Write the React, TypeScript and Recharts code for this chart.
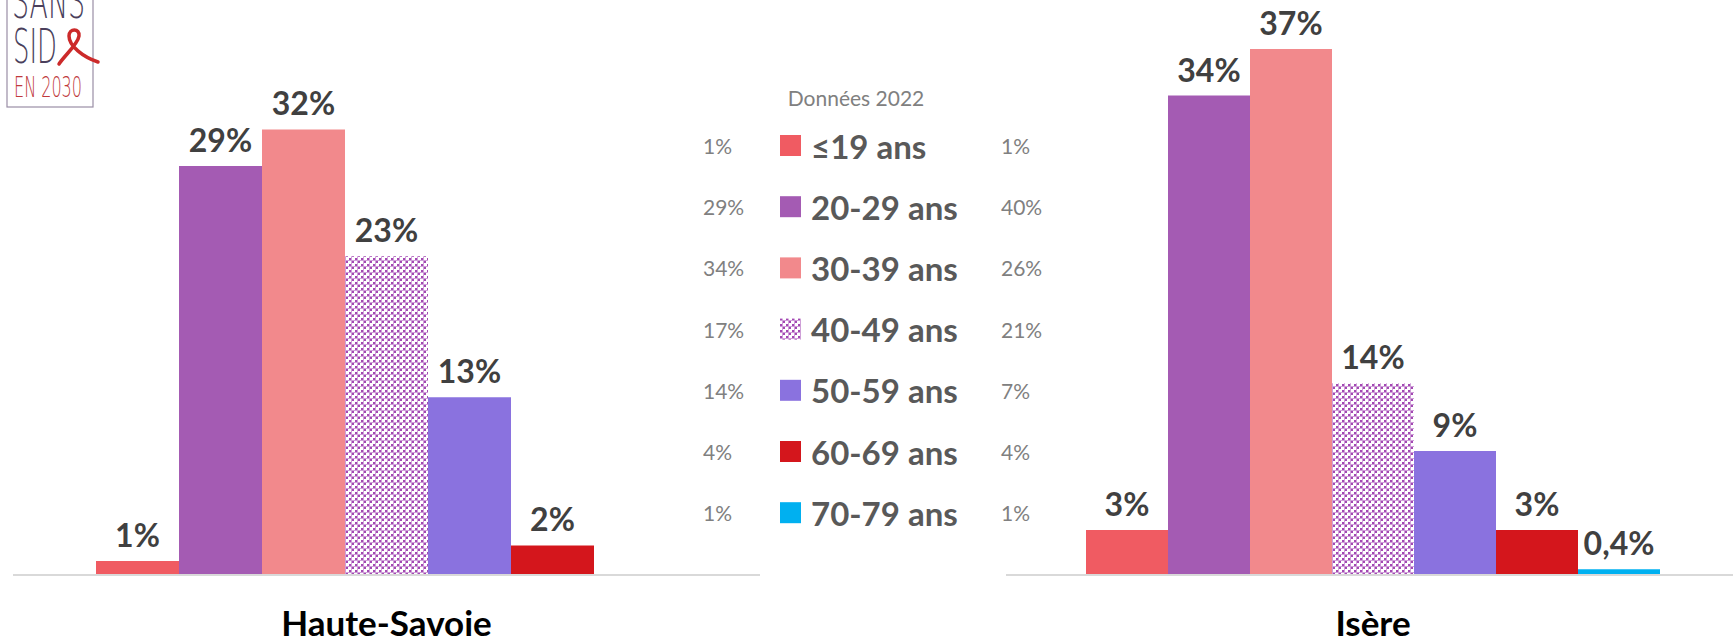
import React from "react";
import { BarChart, Bar, XAxis, YAxis, LabelList } from "recharts";

const AGE_GROUPS = ["≤19 ans", "20-29 ans", "30-39 ans", "40-49 ans", "50-59 ans", "60-69 ans", "70-79 ans"];
const AGE_COLORS = ["#F05B62", "#A45BB3", "#F2898C", "PATTERN", "#8A72DF", "#D4161C", "#00B0F0"];

const HAUTE_SAVOIE = [1.0, 29.0, 31.6, 22.6, 12.6, 2.1, null];
const ISERE = [3.2, 34.0, 37.3, 13.6, 8.8, 3.2, 0.4];

// figures printed beside the legend (left / right columns)
const LEGEND_LEFT = ["1%", "29%", "34%", "17%", "14%", "4%", "1%"];
const LEGEND_RIGHT = ["1%", "40%", "26%", "21%", "7%", "4%", "1%"];

const W = 1733;
const H = 638;
const FONT = "Lato, 'Open Sans', sans-serif";

const fmtPct = (v: number | null) => {
  if (v === null || v === undefined) return "";
  if (v < 1) return v.toFixed(1).replace(".", ",") + "%";
  return Math.round(v) + "%";
};

const toRow = (name: string, values: (number | null)[]) => {
  const row: Record<string, any> = { name };
  values.forEach((v, i) => (row[`s${i}`] = v));
  return row;
};

/* eslint-disable @typescript-eslint/no-explicit-any */
const ValueLabel = ({ x, y, width, value }: any) => {
  if (value === null || value === undefined) return null;
  return (
    <text x={x + width / 2} y={y - 14} textAnchor="middle" fontFamily={FONT} fontWeight={700} fontSize={32} fill="#404040">
      {fmtPct(value)}
    </text>
  );
};

const CategoryTick = ({ x, y, payload }: any) => (
  <text x={x} y={y + 61} textAnchor="middle" fontFamily={FONT} fontWeight={700} fontSize={35} fill="#000">
    {payload.value}
  </text>
);
/* eslint-enable @typescript-eslint/no-explicit-any */

const PatternDef = ({ id }: { id: string }) => (
  <pattern id={id} width={6} height={6} patternUnits="userSpaceOnUse">
    <rect x={0} y={0} width={6} height={6} fill="#fff" />
    <rect x={0} y={0} width={2} height={2} fill="#A348B3" />
    <rect x={3} y={3} width={2} height={2} fill="#A348B3" />
    <rect x={2} y={0} width={1} height={6} fill="#CFA0D8" />
    <rect x={0} y={2} width={6} height={1} fill="#CFA0D8" />
  </pattern>
);

function AgeChart({ name, values, patternId, width, barSize }: { name: string; values: (number | null)[]; patternId: string; width: number; barSize: number }) {
  const data = [toRow(name, values)];
  return (
    <BarChart width={width} height={H} data={data} margin={{ top: 11, right: 0, bottom: 0, left: 0 }} barGap={0} barSize={barSize}>
      <defs>
        <PatternDef id={patternId} />
      </defs>
      <XAxis
        dataKey="name"
        height={63}
        tickLine={false}
        tickSize={0}
        tickMargin={0}
        axisLine={{ stroke: "#D9D9D9", strokeWidth: 2 }}
        tick={<CategoryTick />}
      />
      <YAxis hide domain={[0, 40]} />
      {AGE_GROUPS.map((g, i) => (
        <Bar
          key={g}
          dataKey={`s${i}`}
          fill={AGE_COLORS[i] === "PATTERN" ? `url(#${patternId})` : AGE_COLORS[i]}
          isAnimationActive={false}
        >
          <LabelList dataKey={`s${i}`} content={<ValueLabel />} />
        </Bar>
      ))}
    </BarChart>
  );
}

function Overlay() {
  const rowY = (i: number) => 145.5 + 61.2 * i;
  return (
    <svg width={W} height={H} style={{ position: "absolute", left: 0, top: 0, pointerEvents: "none" }}>
      <defs>
        <PatternDef id="legendPattern" />
      </defs>
      {/* logo */}
      <rect x={7} y={-5} width={86} height={112} fill="none" stroke="#9A8EA6" strokeWidth={1.2} />
      <text x={12} y={18} fontFamily="'DejaVu Sans'" fontWeight={300} fontSize={48} fill="#4A3F5C" textLength={73} lengthAdjust="spacingAndGlyphs">
        SANS
      </text>
      <text x={13} y={63} fontFamily="'DejaVu Sans'" fontWeight={300} fontSize={48} fill="#4A3F5C" textLength={44} lengthAdjust="spacingAndGlyphs">
        SID
      </text>
      <path d="M 59 64 C 65 55, 78 44, 79 36 C 80 28, 69 28, 69 36 C 69 46, 83 57, 98 62" fill="none" stroke="#CC2A2A" strokeWidth={3.5} strokeLinecap="round" />
      <text x={14} y={97} fontFamily="'DejaVu Sans'" fontWeight={300} fontSize={29} fill="#C0393B" textLength={68} lengthAdjust="spacingAndGlyphs">
        EN 2030
      </text>

      {/* legend */}
      <text x={856} y={97} textAnchor="middle" dominantBaseline="central" fontFamily={FONT} fontSize={21} fill="#808080">
        Données 2022
      </text>
      {AGE_GROUPS.map((g, i) => (
        <g key={g}>
          <text x={703} y={rowY(i)} dominantBaseline="central" fontFamily={FONT} fontSize={21} fill="#808080">
            {LEGEND_LEFT[i]}
          </text>
          <rect
            x={780}
            y={rowY(i) - 10.5}
            width={21}
            height={21}
            fill={AGE_COLORS[i] === "PATTERN" ? "url(#legendPattern)" : AGE_COLORS[i]}
          />
          <text x={811} y={rowY(i)} dominantBaseline="central" fontFamily={FONT} fontWeight={700} fontSize={33} fill="#595959">
            {g}
          </text>
          <text x={1001} y={rowY(i)} dominantBaseline="central" fontFamily={FONT} fontSize={21} fill="#808080">
            {LEGEND_RIGHT[i]}
          </text>
        </g>
      ))}
    </svg>
  );
}

export default function App() {
  return (
    <div style={{ position: "absolute", left: 0, top: 0, width: W, height: H, overflow: "hidden", background: "#fff" }}>
      <div style={{ position: "absolute", left: 13, top: 0 }}>
        <AgeChart name="Haute-Savoie" values={HAUTE_SAVOIE} patternId="hatchLeft" width={747} barSize={83} />
      </div>
      <div style={{ position: "absolute", left: 1006, top: 0 }}>
        <AgeChart name="Isère" values={ISERE} patternId="hatchRight" width={734} barSize={82} />
      </div>
      <Overlay />
    </div>
  );
}
